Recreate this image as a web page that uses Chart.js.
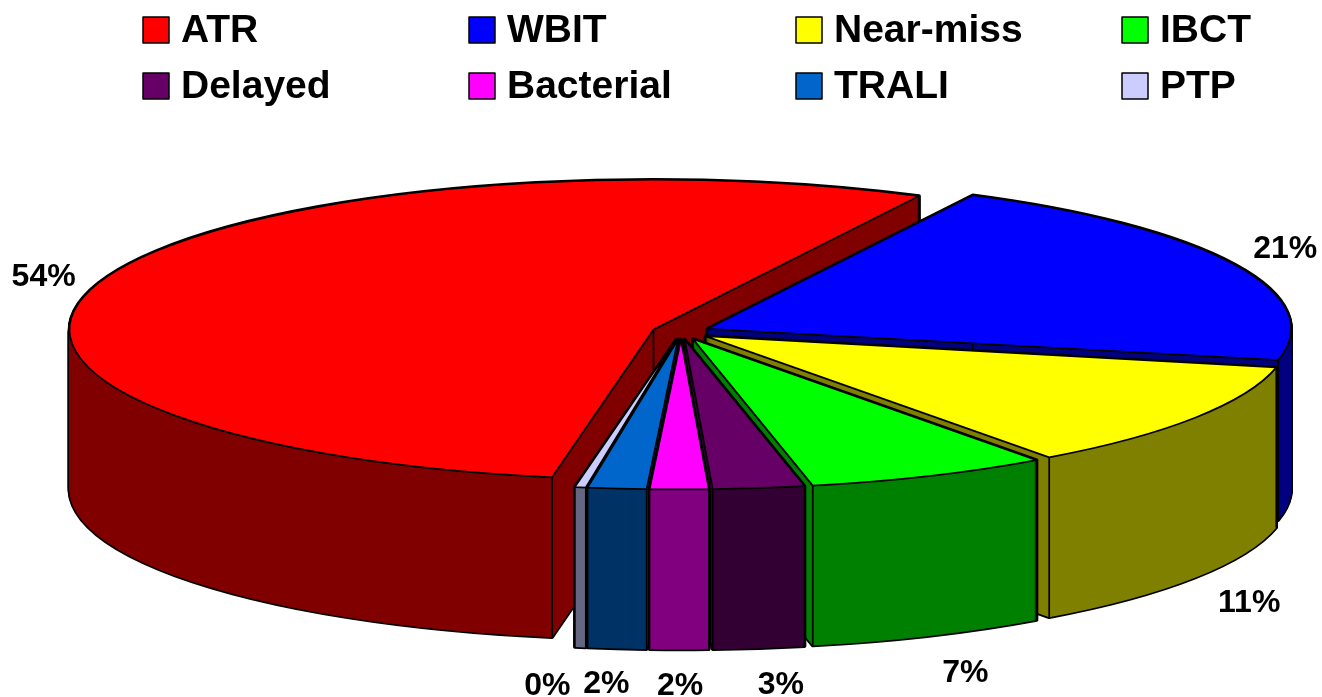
<!DOCTYPE html>
<html>
<head>
<meta charset="utf-8">
<style>html,body{margin:0;padding:0;background:#fff}canvas{display:block}</style>
<script src="https://cdn.jsdelivr.net/npm/chart.js@4"></script>
</head>
<body>
<canvas id="c" width="1322" height="697"></canvas>
<script>
const categories = ['ATR','WBIT','Near-miss','IBCT','Delayed','Bacterial','TRALI','PTP'];
const values = [54.1,20.6,11.49,6.65,2.5,1.6,1.6,0.3];
const topColors = ['#FF0000','#0000FF','#FFFF00','#00FF00','#660066','#FF00FF','#0066CC','#CCCCFF'];
const sideColors = ['#800000','#000080','#808000','#008000','#330033','#800080','#003366','#666680'];

const view = {cx:681, cy:332, rx:584, ry:150, depth:160, labelR:668, startDeg:190, explode:29};
const paintOrder = [0,1,2,3,4,7,6,5];
const labelNudge = [[-4,0],[1,-9],[8,18],[13,24],[15,23],[1,23],[-5,22],[-24,25]];
const legendCols = [143,469,796,1122];
const legendRows = [17,73];

const pie3d = {
  id:'pie3d',
  beforeDatasetsDraw(chart){
    const ctx = chart.ctx, arcs = chart.getDatasetMeta(0).data;
    const TAU = Math.PI*2;
    const geo = a => {
      const sx = view.rx/a.outerRadius, sy = view.ry/a.outerRadius, m = (a.startAngle+a.endAngle)/2;
      const ex = view.explode*Math.cos(m), ey = view.explode*(view.ry/view.rx)*Math.sin(m);
      return {sx,sy,ax:view.cx+ex,ay:view.cy+ey};
    };
    const paint = (a,g,dy,color) => {
      const saved = a.options;
      a.options = Object.assign({},saved,{backgroundColor:color,borderWidth:0});
      ctx.save();
      ctx.translate(g.ax,g.ay+dy);
      ctx.scale(g.sx,g.sy);
      ctx.translate(-a.x,-a.y);
      a.draw(ctx);
      ctx.restore();
      a.options = saved;
    };
    const outline = (a,g,dy,w) => {
      ctx.beginPath();
      ctx.moveTo(g.ax,g.ay+dy);
      ctx.ellipse(g.ax,g.ay+dy,view.rx,view.ry,0,a.startAngle,a.endAngle);
      ctx.closePath();
      ctx.lineWidth = w; ctx.strokeStyle = '#000'; ctx.lineJoin='round'; ctx.stroke();
    };
    const facesFront = a => {
      const s = ((a.startAngle%TAU)+TAU)%TAU, e = s+(a.endAngle-a.startAngle);
      return (s<Math.PI/2 && e>Math.PI/2) || (s<Math.PI/2+TAU && e>Math.PI/2+TAU);
    };
    paintOrder.forEach(i=>{
      const a = arcs[i], g = geo(a);
      for(let d=view.depth;d>=0;d-=1) outline(a,g,d,3.4);
      for(let d=view.depth;d>=0;d-=1) paint(a,g,d,sideColors[i]);
      const pts = [
        [g.ax+view.rx*Math.cos(a.startAngle),g.ay+view.ry*Math.sin(a.startAngle)],
        [g.ax+view.rx*Math.cos(a.endAngle),g.ay+view.ry*Math.sin(a.endAngle)]];
      if(!facesFront(a)) pts.push([g.ax,g.ay]);
      ctx.lineWidth=1.7; ctx.strokeStyle='#000';
      pts.forEach(p=>{ctx.beginPath();ctx.moveTo(p[0],p[1]);ctx.lineTo(p[0],p[1]+view.depth);ctx.stroke();});
      paint(a,g,0,topColors[i]);
      outline(a,g,0,1.8);
    });
    return false;
  },
  afterDraw(chart){
    const ctx = chart.ctx, arcs = chart.getDatasetMeta(0).data;
    ctx.save();
    ctx.fillStyle='#000';
    ctx.textBaseline='middle';
    ctx.textAlign='left';
    ctx.font='bold 39px "Liberation Sans", Arial, sans-serif';
    categories.forEach((c,i)=>{
      const x=legendCols[i%4], y=legendRows[i>>2];
      ctx.fillStyle=topColors[i];
      ctx.fillRect(x,y,26,26);
      ctx.lineWidth=1.5; ctx.strokeStyle='#000';
      ctx.strokeRect(x,y,26,26);
      ctx.fillStyle='#000';
      ctx.fillText(c,x+38,y+14);
    });
    ctx.font='bold 32px "Liberation Sans", Arial, sans-serif';
    ctx.textAlign='center';
    arcs.forEach((a,i)=>{
      const m=(a.startAngle+a.endAngle)/2, s=Math.sin(m);
      const x=view.cx+view.labelR*Math.cos(m)+labelNudge[i][0];
      const y=view.cy+view.labelR*(view.ry/view.rx)*s+(s>0.3?view.depth:0)+labelNudge[i][1];
      ctx.fillText(Math.round(values[i])+'%',x,y);
    });
    ctx.restore();
  }
};

new Chart(document.getElementById('c'),{
  type:'pie',
  data:{labels:categories,datasets:[{data:values,backgroundColor:topColors,borderWidth:0}]},
  options:{
    responsive:false,animation:false,
    rotation:view.startDeg,
    layout:{padding:0},
    plugins:{legend:{display:false},tooltip:{enabled:false},title:{display:false}}
  },
  plugins:[pie3d]
});
</script>
</body>
</html>
